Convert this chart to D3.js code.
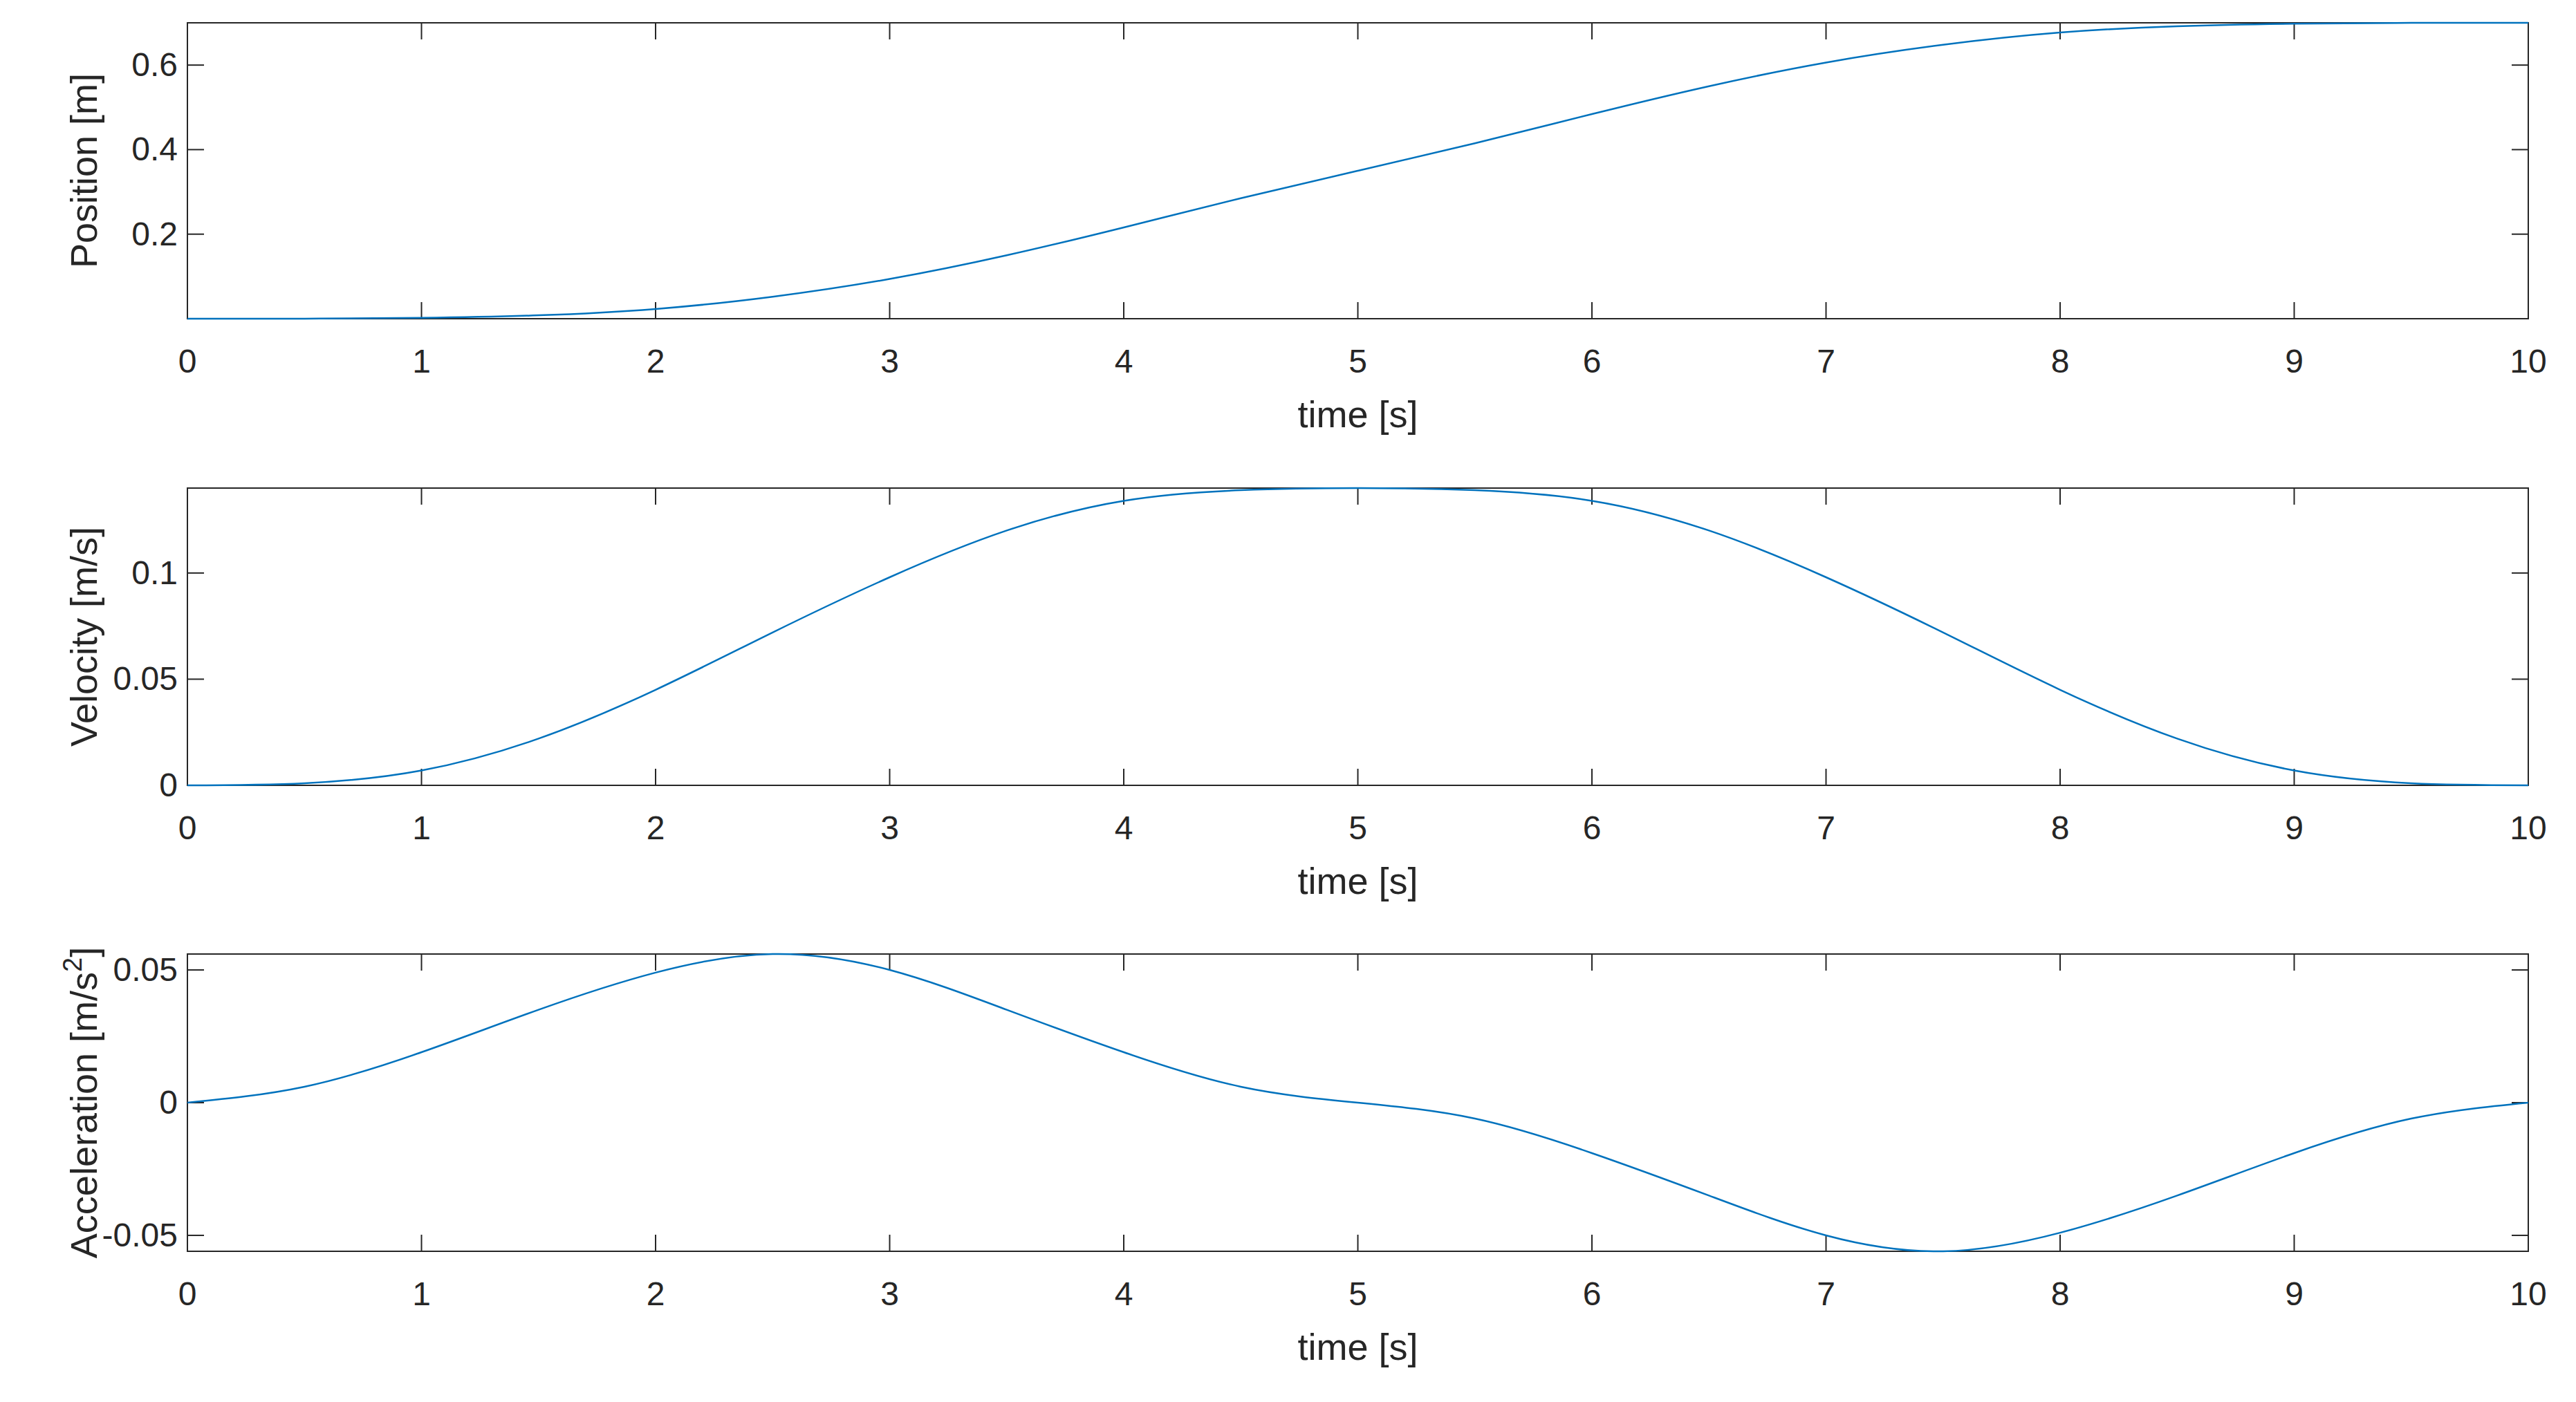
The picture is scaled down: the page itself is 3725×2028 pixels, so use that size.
<!DOCTYPE html>
<html><head><meta charset="utf-8">
<script src="https://cdn.jsdelivr.net/npm/d3@7"></script>
<style>body{margin:0;background:#fff}</style>
</head><body>
<svg id="chart" width="3725" height="2028"></svg>
<script>
// time samples every 0.5 s
var time = [0,0.5,1,1.5,2,2.5,3,3.5,4,4.5,5,5.5,6,6.5,7,7.5,8,8.5,9,9.5,10];
var position = [0,0.0001,0.002,0.008,0.023,0.052,0.094,0.150,0.216,0.285,0.350,0.415,0.484,0.550,0.606,0.648,0.677,0.692,0.698,0.6999,0.7];
var velocity = [0,0.001,0.007,0.022,0.045,0.072,0.098,0.120,0.134,0.139,0.140,0.139,0.134,0.120,0.098,0.072,0.045,0.022,0.007,0.001,0];
var acceleration = [0,0.006,0.019,0.035,0.049,0.056,0.050,0.035,0.019,0.006,0,-0.006,-0.019,-0.035,-0.050,-0.056,-0.049,-0.035,-0.019,-0.006,0];
var xTicks = [0,1,2,3,4,5,6,7,8,9,10];

var panels = [
  {data: position, dom: [0,0.7], ticks: [0.2,0.4,0.6], fmt: d3.format(".1f"), label: "Position [m]", top: 33, bottom: 461},
  {data: velocity, dom: [0,0.14], ticks: [0,0.05,0.1], fmt: d => d === 0 ? "0" : String(d), label: "Velocity [m/s]", top: 706, bottom: 1136},
  {data: acceleration, dom: [-0.056,0.056], ticks: [-0.05,0,0.05], fmt: d => d === 0 ? "0" : String(d), label: "Acceleration [m/s", sup: "2", top: 1380, bottom: 1810}
];

var left = 271, right = 3656, grey = "#262626";
var svg = d3.select("#chart");
var x = d3.scaleLinear().domain([0,10]).range([left,right]);

panels.forEach(function(p){
  var y = d3.scaleLinear().domain(p.dom).range([p.bottom,p.top]);
  var g = svg.append("g").attr("font-family","Liberation Sans, Arial, sans-serif").attr("fill",grey);

  g.append("rect").attr("x",left).attr("y",p.top).attr("width",right-left).attr("height",p.bottom-p.top)
    .attr("fill","none").attr("stroke",grey).attr("stroke-width",2);

  xTicks.forEach(function(t){
    g.append("line").attr("x1",x(t)).attr("x2",x(t)).attr("y1",p.bottom).attr("y2",p.bottom-24).attr("stroke",grey).attr("stroke-width",2);
    g.append("line").attr("x1",x(t)).attr("x2",x(t)).attr("y1",p.top).attr("y2",p.top+24).attr("stroke",grey).attr("stroke-width",2);
    g.append("text").attr("x",x(t)).attr("y",p.bottom+78).attr("text-anchor","middle").attr("font-size",48).attr("fill",grey).text(t);
  });
  p.ticks.forEach(function(t){
    g.append("line").attr("x1",left).attr("x2",left+24).attr("y1",y(t)).attr("y2",y(t)).attr("stroke",grey).attr("stroke-width",2);
    g.append("line").attr("x1",right).attr("x2",right-24).attr("y1",y(t)).attr("y2",y(t)).attr("stroke",grey).attr("stroke-width",2);
    g.append("text").attr("x",left-14).attr("y",y(t)+16).attr("text-anchor","end").attr("font-size",48).attr("fill",grey).text(p.fmt(t));
  });
  g.append("text").attr("x",(left+right)/2).attr("y",p.bottom+157).attr("text-anchor","middle").attr("font-size",54).attr("fill",grey).text("time [s]");
  var lab = g.append("text").attr("transform","translate(140,"+((p.top+p.bottom)/2)+") rotate(-90)")
    .attr("text-anchor","middle").attr("font-size",54).attr("fill",grey).text(p.label);
  if (p.sup) {
    lab.append("tspan").attr("dy",-22).attr("font-size",38).text(p.sup);
    lab.append("tspan").attr("dy",22).text("]");
  }

  var line = d3.line().x((d,i) => x(time[i])).y(d => y(d)).curve(d3.curveNatural);
  g.append("path").datum(p.data).attr("d",line).attr("fill","none").attr("stroke","#0072BD").attr("stroke-width",2.5);
});
</script>
</body></html>
